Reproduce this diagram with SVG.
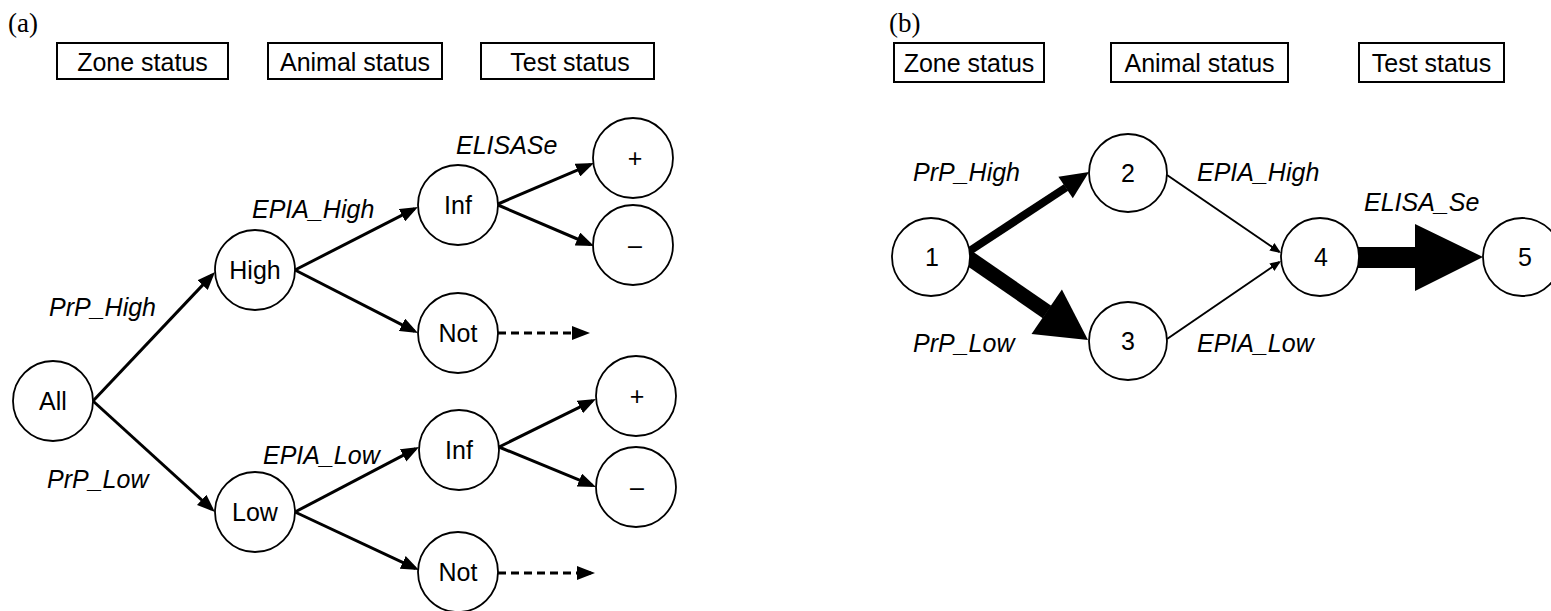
<svg xmlns="http://www.w3.org/2000/svg" width="1551" height="611" viewBox="0 0 1551 611">
<defs>
<style>
.lbl{font-family:"Liberation Sans",Arial,sans-serif;font-size:25px;fill:#000}
.it{font-style:italic}
.pan{font-family:"Liberation Serif","Times New Roman",serif;font-size:27px;fill:#000}
.box{fill:#fff;stroke:#000;stroke-width:2}
.nd{fill:#fff;stroke:#000;stroke-width:1.8}
.e{stroke:#000;stroke-width:3;fill:none;marker-end:url(#arr)}
.d{stroke:#000;stroke-width:3;fill:none;stroke-dasharray:8 5;marker-end:url(#arr)}
.t{stroke:#000;stroke-width:2;fill:none;marker-end:url(#arrS)}
</style>
<marker id="arr" markerUnits="userSpaceOnUse" markerWidth="18" markerHeight="14" refX="14" refY="7" orient="auto"><path d="M0,0 L18,7 L0,14 z" fill="#000"/></marker>
<marker id="arrS" markerUnits="userSpaceOnUse" markerWidth="11" markerHeight="9" refX="9" refY="4.5" orient="auto"><path d="M0,0 L11,4.5 L0,9 z" fill="#000"/></marker>
</defs>
<rect width="1551" height="611" fill="#fff"/>

<g id="panel-a-labels">
<text class="pan" x="8" y="32">(a)</text>
</g>
<g id="a-zone"><rect class="box" x="57" y="43" width="171" height="36"/><text class="lbl" x="142.5" y="71" text-anchor="middle">Zone status</text></g>
<g id="a-animal"><rect class="box" x="268" y="43" width="174" height="36"/><text class="lbl" x="355" y="71" text-anchor="middle">Animal status</text></g>
<g id="a-test"><rect class="box" x="481" y="43" width="173" height="36"/><text class="lbl" x="570" y="71" text-anchor="middle">Test status</text></g>

<g id="connectors-a">
<line class="e" x1="93" y1="401" x2="212.3" y2="274.9"/>
<line class="e" x1="93" y1="401" x2="212" y2="509.3"/>
<line class="e" x1="295" y1="270" x2="414.4" y2="208.8"/>
<line class="e" x1="295" y1="270" x2="414.4" y2="331.2"/>
<line class="e" x1="498" y1="204" x2="590.3" y2="164.6"/>
<line class="e" x1="498" y1="205" x2="590.3" y2="244.5"/>
<line class="d" x1="498" y1="333" x2="586" y2="333"/>
<line class="e" x1="295" y1="512" x2="415.5" y2="448.9"/>
<line class="e" x1="295" y1="512" x2="415.4" y2="568.3"/>
<line class="e" x1="499" y1="447" x2="592.4" y2="400.8"/>
<line class="e" x1="499" y1="447" x2="592.3" y2="485.4"/>
<line class="d" x1="498" y1="573" x2="591" y2="573"/>
</g>

<g id="edge-labels-a">
<text class="lbl it" x="49" y="316">PrP_High</text>
<text class="lbl it" x="47" y="488">PrP_Low</text>
<text class="lbl it" x="252" y="218">EPIA_High</text>
<text class="lbl it" x="263" y="464">EPIA_Low</text>
<text class="lbl it" x="456" y="154">ELISASe</text>
</g>

<g id="n-all"><circle class="nd" cx="53" cy="401" r="40"/><text class="lbl" x="53" y="410" text-anchor="middle">All</text></g>
<g id="n-high"><circle class="nd" cx="255" cy="270" r="40"/><text class="lbl" x="255" y="279" text-anchor="middle">High</text></g>
<g id="n-low"><circle class="nd" cx="255" cy="512" r="40"/><text class="lbl" x="255" y="521" text-anchor="middle">Low</text></g>
<g id="n-inf1"><circle class="nd" cx="458" cy="205" r="40"/><text class="lbl" x="458" y="214" text-anchor="middle">Inf</text></g>
<g id="n-not1"><circle class="nd" cx="458" cy="333" r="40"/><text class="lbl" x="458" y="342" text-anchor="middle">Not</text></g>
<g id="n-pos1"><circle class="nd" cx="633" cy="158" r="40"/><text class="lbl" x="635" y="167" text-anchor="middle">+</text></g>
<g id="n-neg1"><circle class="nd" cx="633" cy="245" r="40"/><text class="lbl" x="635" y="254" text-anchor="middle">–</text></g>
<g id="n-inf2"><circle class="nd" cx="459" cy="450" r="40"/><text class="lbl" x="459" y="459" text-anchor="middle">Inf</text></g>
<g id="n-not2"><circle class="nd" cx="458" cy="572" r="40"/><text class="lbl" x="458" y="581" text-anchor="middle">Not</text></g>
<g id="n-pos2"><circle class="nd" cx="636" cy="396" r="40"/><text class="lbl" x="637" y="405" text-anchor="middle">+</text></g>
<g id="n-neg2"><circle class="nd" cx="636" cy="487" r="40"/><text class="lbl" x="637" y="496" text-anchor="middle">–</text></g>

<g id="panel-b-labels">
<text class="pan" x="889" y="32">(b)</text>
</g>
<g id="b-zone"><rect class="box" x="894" y="43" width="150" height="39"/><text class="lbl" x="969" y="72" text-anchor="middle">Zone status</text></g>
<g id="b-animal"><rect class="box" x="1111" y="43" width="177" height="39"/><text class="lbl" x="1199.5" y="72" text-anchor="middle">Animal status</text></g>
<g id="b-test"><rect class="box" x="1359" y="43" width="145" height="39"/><text class="lbl" x="1431.5" y="72" text-anchor="middle">Test status</text></g>

<g id="connectors-b">
<line x1="968" y1="252" x2="1066" y2="187.5" stroke="#000" stroke-width="8"/>
<polygon points="1089,172 1072.8,198.3 1058.4,176.7" fill="#000"/>
<line x1="966" y1="256" x2="1047" y2="312" stroke="#000" stroke-width="15"/>
<polygon points="1088,340 1031.5,334.1 1061.9,289.5" fill="#000"/>
<line class="t" x1="1167" y1="175" x2="1279.3" y2="251.9"/>
<line class="t" x1="1167" y1="339" x2="1279.3" y2="262.1"/>
<polygon points="1358,247 1415,247 1415,224 1483,257 1415,291 1415,268 1358,268" fill="#000"/>
</g>

<g id="edge-labels-b">
<text class="lbl it" x="913" y="181">PrP_High</text>
<text class="lbl it" x="913" y="352">PrP_Low</text>
<text class="lbl it" x="1197" y="181">EPIA_High</text>
<text class="lbl it" x="1197" y="352">EPIA_Low</text>
<text class="lbl it" x="1364" y="211">ELISA_Se</text>
</g>

<g id="n-1"><circle class="nd" cx="931" cy="257" r="39"/><text class="lbl" x="932" y="266" text-anchor="middle">1</text></g>
<g id="n-2"><circle class="nd" cx="1128" cy="173" r="39"/><text class="lbl" x="1128" y="182" text-anchor="middle">2</text></g>
<g id="n-3"><circle class="nd" cx="1128" cy="341" r="39"/><text class="lbl" x="1128" y="350" text-anchor="middle">3</text></g>
<g id="n-4"><circle class="nd" cx="1320" cy="257" r="39"/><text class="lbl" x="1321" y="266" text-anchor="middle">4</text></g>
<g id="n-5"><circle class="nd" cx="1522" cy="257" r="39"/><text class="lbl" x="1525" y="266" text-anchor="middle">5</text></g>
</svg>
